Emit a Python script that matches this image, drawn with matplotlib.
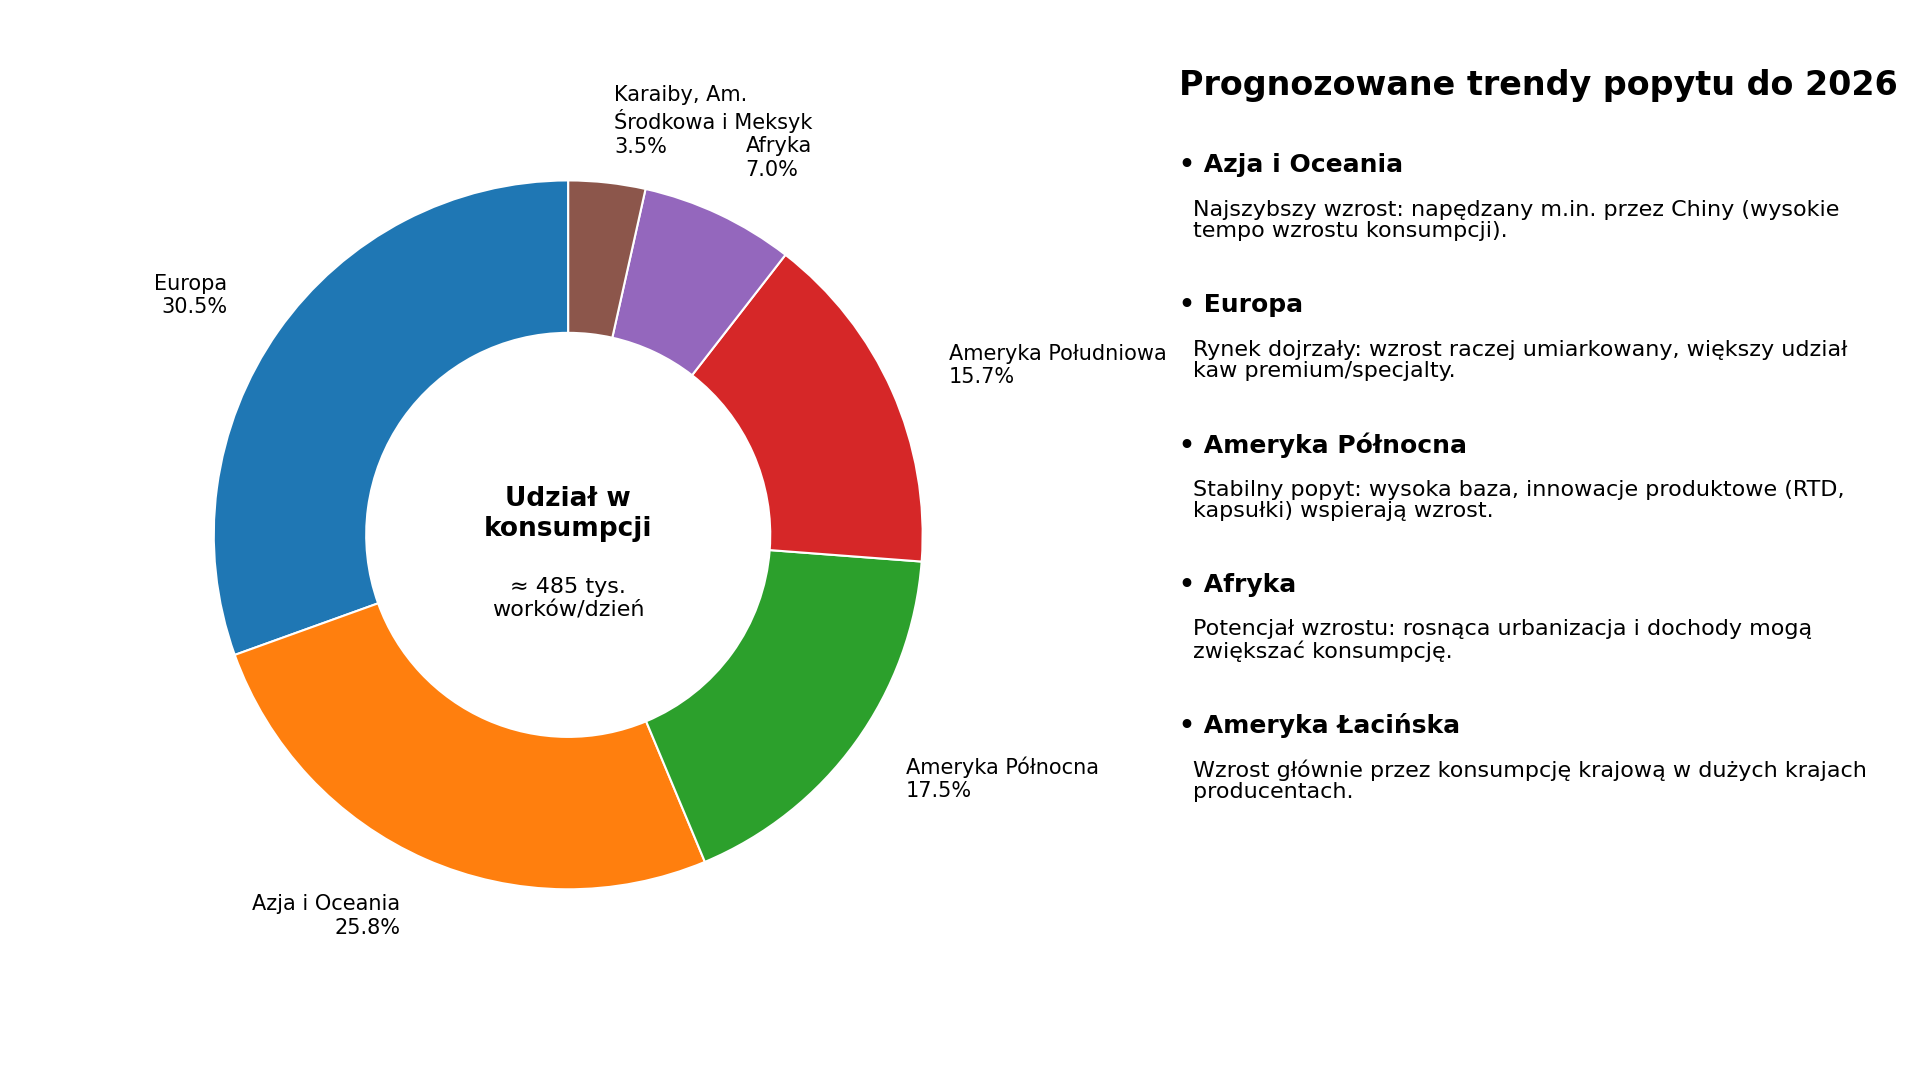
import numpy as np
import matplotlib.pyplot as plt

regions = ['Europa', 'Azja i Oceania', 'Ameryka Północna', 'Ameryka Południowa',
           'Afryka', 'Karaiby, Am.\nŚrodkowa i Meksyk']
shares = [30.5, 25.8, 17.5, 15.7, 7.0, 3.5]
colors = ['#1f77b4', '#ff7f0e', '#2ca02c', '#d62728', '#9467bd', '#8c564b']

trend_heads = ['Azja i Oceania', 'Europa', 'Ameryka Północna', 'Afryka', 'Ameryka Łacińska']
trend_texts = [
    'Najszybszy wzrost: napędzany m.in. przez Chiny (wysokie\ntempo wzrostu konsumpcji).',
    'Rynek dojrzały: wzrost raczej umiarkowany, większy udział\nkaw premium/specjalty.',
    'Stabilny popyt: wysoka baza, innowacje produktowe (RTD,\nkapsułki) wspierają wzrost.',
    'Potencjał wzrostu: rosnąca urbanizacja i dochody mogą\nzwiększać konsumpcję.',
    'Wzrost głównie przez konsumpcję krajową w dużych krajach\nproducentach.',
]

labels = [f'{r}\n{s:.1f}%' for r, s in zip(regions, shares)]

fig = plt.figure(figsize=(19.2, 10.8), dpi=100)
ax = fig.add_axes([0.0652, 0.0945, 0.4615, 0.8205])
ax.pie(shares, labels=labels, colors=colors, startangle=90, counterclock=True,
       labeldistance=1.175, wedgeprops=dict(width=0.43, edgecolor='white', linewidth=1.5),
       textprops=dict(fontsize=15))
ax.set_aspect('equal')
ax.text(0, 0.06, 'Udział w\nkonsumpcji', ha='center', va='center', fontsize=19, fontweight='bold')
ax.text(0, -0.18, '≈ 485 tys.\nworków/dzień', ha='center', va='center', fontsize=16)

fig.text(0.614, 0.921, 'Prognozowane trendy popytu do 2026', fontsize=24, fontweight='bold',
         va='center')
for i, (h, t) in enumerate(zip(trend_heads, trend_texts)):
    y = 0.847 - i * 0.1297
    fig.text(0.614, y, '• ' + h, fontsize=18, fontweight='bold', va='center')
    fig.text(0.6215, y - 0.051, t, fontsize=16, va='center', linespacing=1.1)

fig.savefig('out.png', dpi=100)
